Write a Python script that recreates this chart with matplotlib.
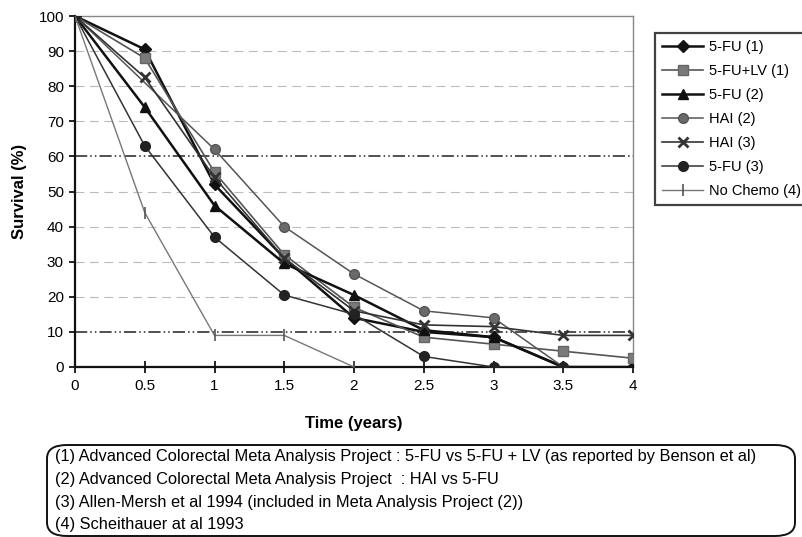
import matplotlib.pyplot as plt
from matplotlib.patches import FancyBboxPatch

plt.rcParams['font.family'] = ['Liberation Sans', 'DejaVu Sans']

years = [0, 0.5, 1, 1.5, 2, 2.5, 3, 3.5, 4]

fu1 = [100, 90.5, 52, 31, 14, 10, 8.5, 0, 0]
fulv1 = [100, 88, 55.5, 32, 17, 8.5, 6.5, 4.5, 2.5]
fu2 = [100, 74, 46, 29.5, 20.5, 10.5, 8.5, 0]
# HAI (2) has no point at 0.5 years
hai2_x = [0, 1, 1.5, 2, 2.5, 3, 3.5]
hai2 = [100, 62, 40, 26.5, 16, 14, 0]
hai3 = [100, 82.5, 54, 31, 16, 12, 11.5, 9, 9]
fu3 = [100, 63, 37, 20.5, 15, 3, 0, 0]
nochemo = [100, 44, 9, 9, 0]

footnotes = [
    '(1) Advanced Colorectal Meta Analysis Project : 5-FU vs 5-FU + LV (as reported by Benson et al)',
    '(2) Advanced Colorectal Meta Analysis Project  : HAI vs 5-FU',
    '(3) Allen-Mersh et al 1994 (included in Meta Analysis Project (2))',
    '(4) Scheithauer at al 1993',
]

fig = plt.figure(figsize=(8.03, 5.37), dpi=100)
ax = fig.add_axes([75 / 803, 1 - 367 / 537, (633 - 75) / 803, (367 - 16) / 537])

# grid lines
for g in range(10, 100, 10):
    if g in (10, 60):
        ax.axhline(g, color='#222222', lw=1.1, ls=(0, (8, 2, 1, 2, 1, 2)), zorder=1)
    else:
        ax.axhline(g, color='#bbbbbb', lw=0.8, ls=(0, (8, 5)), zorder=1)

ax.plot(years[:len(fu1)], fu1, color='#111111', lw=1.8, marker='D', ms=6, mfc='#111111', mec='#111111', label='5-FU (1)', zorder=3)
ax.plot(years[:len(fulv1)], fulv1, color='#555555', lw=1.2, marker='s', ms=7, mfc='#7a7a7a', mec='#666666', label='5-FU+LV (1)', zorder=3)
ax.plot(years[:len(fu2)], fu2, color='#111111', lw=1.8, marker='^', ms=7, mfc='#111111', mec='#111111', label='5-FU (2)', zorder=3)
ax.plot(hai2_x, hai2, color='#555555', lw=1.1, marker='o', ms=7, mfc='#6a6a6a', mec='#555555', label='HAI (2)', zorder=3)
ax.plot(years[:len(hai3)], hai3, color='#333333', lw=1.2, marker='x', ms=7, mew=2, mec='#333333', label='HAI (3)', zorder=3)
ax.plot(years[:len(fu3)], fu3, color='#333333', lw=1.1, marker='o', ms=7, mfc='#222222', mec='#222222', label='5-FU (3)', zorder=3)
ax.plot(years[:len(nochemo)], nochemo, color='#777777', lw=1.0, marker='|', ms=9, mew=1.2, mec='#555555', label='No Chemo (4)', zorder=3)

ax.set_xlim(0, 4)
ax.set_ylim(0, 100)
ax.set_xticks(years)
ax.set_xticklabels(['0', '0.5', '1', '1.5', '2', '2.5', '3', '3.5', '4'])
ax.set_yticks(range(0, 101, 10))
ax.tick_params(axis='x', direction='inout', length=8, width=1.2, labelsize=11, pad=5)
ax.tick_params(axis='y', direction='out', length=4, width=1.2, labelsize=11, pad=4)
for s in ('left', 'bottom'):
    ax.spines[s].set_color('#111111')
    ax.spines[s].set_linewidth(1.6)
for s in ('top', 'right'):
    ax.spines[s].set_color('#888888')
    ax.spines[s].set_linewidth(1.0)

ax.set_xlabel('Time (years)', fontsize=12, fontweight='bold', labelpad=16)
ax.set_ylabel('Survival (%)', fontsize=12, fontweight='bold', labelpad=8)

leg = fig.legend(loc='upper left', bbox_to_anchor=(655 / 803, 1 - 33 / 537),
                 fontsize=10.5, frameon=True, fancybox=False, edgecolor='#111111',
                 handlelength=2.8, handletextpad=0.4, borderpad=0.5,
                 borderaxespad=0, labelspacing=0.68)
leg.get_frame().set_linewidth(1.6)

box = FancyBboxPatch((47 / 803, 1 - 536 / 537), (795 - 47) / 803, (536 - 445) / 537,
                     boxstyle='round,pad=0,rounding_size=0.025', transform=fig.transFigure,
                     fill=False, edgecolor='#111111', lw=1.4, clip_on=False)
fig.patches.append(box)

for i, t in enumerate(footnotes):
    fig.text(55 / 803, 1 - (457 + 22.5 * i) / 537, t, fontsize=11.8, va='center', ha='left')

fig.savefig('out.png', dpi=100)
